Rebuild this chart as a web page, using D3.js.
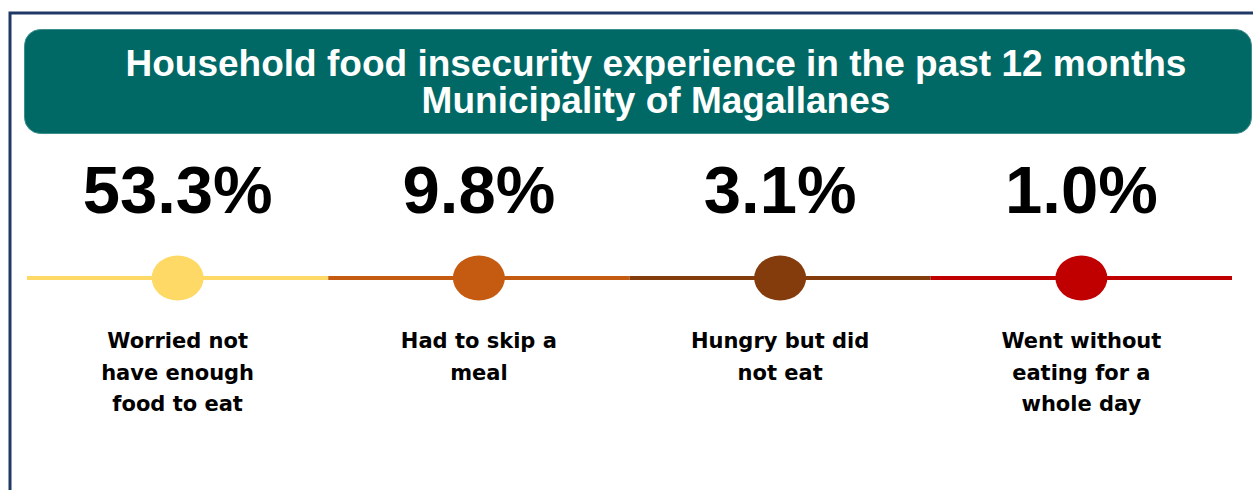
<!DOCTYPE html>
<html>
<head>
<meta charset="utf-8">
<script src="https://cdn.jsdelivr.net/npm/d3@7"></script>
<style>
	html, body { margin: 0; padding: 0; background: #fff; }
	svg { display: block; }
</style>
</head>
<body>
<svg id="chart" width="1253" height="490"></svg>
<script>
'use strict';

// Chart data
var titleLines = ['Household food insecurity experience in the past 12 months', 'Municipality of Magallanes'];
var categories = ['worried', 'skip', 'hungry', 'day'];
var percentValues = [53.3, 9.8, 3.1, 1.0];
var labelLines = [
	['Worried not', 'have enough', 'food to eat'],
	['Had to skip a', 'meal'],
	['Hungry but did', 'not eat'],
	['Went without', 'eating for a', 'whole day']
];
var colours = ['#FFD966', '#C55A11', '#843C0C', '#C00000'];

var svg = d3.select('#chart');
var fmt = d3.format('.1f');

var rows = categories.map(function (c, i) {
	return { key: c, value: percentValues[i], lines: labelLines[i], colour: colours[i] };
});

// Outer frame (only top and left edges visible in the picture)
svg.append('path')
	.attr('d', d3.line()([[10, 500], [10, 13], [1260, 13]]))
	.attr('fill', 'none')
	.attr('stroke', '#1F3864')
	.attr('stroke-width', 3);

// Title banner
svg.append('rect')
	.attr('x', 24.5)
	.attr('y', 29.5)
	.attr('width', 1227)
	.attr('height', 104)
	.attr('rx', 16)
	.attr('fill', '#006966')
	.attr('stroke', '#3d8e8b')
	.attr('stroke-width', 1);

svg.append('g').selectAll('text')
	.data(titleLines)
	.enter().append('text')
	.attr('x', 656)
	.attr('y', function (d, i) { return 76 + i * 37; })
	.attr('text-anchor', 'middle')
	.attr('fill', '#fff')
	.attr('font-family', '"Liberation Sans", Arial, sans-serif')
	.attr('font-weight', 'bold')
	.attr('font-size', 37)
	.text(function (d) { return d; });

// Horizontal scale: one band per indicator
var x = d3.scaleBand()
	.domain(categories)
	.range([27, 1232])
	.padding(0);

var lineY = 278;

// Coloured line segments
svg.append('g').selectAll('line')
	.data(rows)
	.enter().append('line')
	.attr('x1', function (d) { return x(d.key); })
	.attr('x2', function (d) { return x(d.key) + x.bandwidth(); })
	.attr('y1', lineY)
	.attr('y2', lineY)
	.attr('stroke', function (d) { return d.colour; })
	.attr('stroke-width', 4);

// Markers
svg.append('g').selectAll('ellipse')
	.data(rows)
	.enter().append('ellipse')
	.attr('cx', function (d) { return x(d.key) + x.bandwidth() / 2; })
	.attr('cy', lineY)
	.attr('rx', 26)
	.attr('ry', 22.5)
	.attr('fill', function (d) { return d.colour; });

// Big percentages
svg.append('g').selectAll('text')
	.data(rows)
	.enter().append('text')
	.attr('x', function (d) { return x(d.key) + x.bandwidth() / 2; })
	.attr('y', 213)
	.attr('text-anchor', 'middle')
	.attr('fill', '#000')
	.attr('font-family', '"Liberation Sans", Arial, sans-serif')
	.attr('font-weight', 'bold')
	.attr('font-size', 67)
	.text(function (d) { return fmt(d.value) + '%'; });

// Category labels
var labels = svg.append('g').selectAll('text')
	.data(rows)
	.enter().append('text')
	.attr('text-anchor', 'middle')
	.attr('fill', '#000')
	.attr('font-family', '"DejaVu Sans", Verdana, sans-serif')
	.attr('font-weight', 'bold')
	.attr('font-size', 21);

labels.selectAll('tspan')
	.data(function (d) { return d.lines.map(function (l) { return { t: l, d: d }; }); })
	.enter().append('tspan')
	.attr('x', function (o) { return x(o.d.key) + x.bandwidth() / 2; })
	.attr('y', function (o, i) { return 348 + i * 31.5; })
	.text(function (o) { return o.t; });
</script>
</body>
</html>
